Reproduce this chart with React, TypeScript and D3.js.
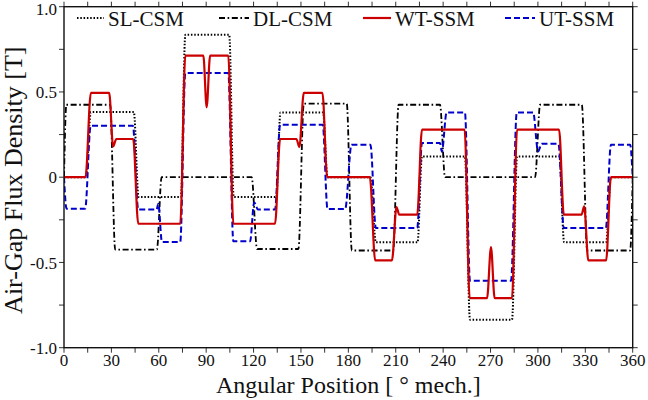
import React from "react";
import * as d3 from "d3";

type Pt = [number, number];

const SERIES_NAMES = ["SL-CSM", "DL-CSM", "WT-SSM", "UT-SSM"];

const slCsm: Pt[] = [
  [0, 0], [13.8, 0], [17, 0.382], [44.2, 0.382], [47.2, -0.116], [74, -0.116],
  [76.8, 0.836], [104.6, 0.836], [107.4, -0.116], [134.4, -0.116], [137, 0.38],
  [164, 0.38], [166.8, 0], [194, 0], [197.4, -0.382], [223.8, -0.382],
  [226.6, 0.122], [253.8, 0.122], [257, -0.836], [283.6, -0.836], [286.8, 0.122],
  [313.6, 0.122], [316.6, -0.382], [343.2, -0.382], [346.2, 0], [360, 0],
];

const dlCsm: Pt[] = [
  [0, 0], [1.5, 0.425], [29.2, 0.425], [32.4, -0.425], [58.8, -0.425], [61.8, 0],
  [118.8, 0], [122.2, -0.421], [148.4, -0.421], [151.8, 0.431], [179, 0.431],
  [182.2, -0.43], [208.4, -0.43], [211.8, 0.425], [238, 0.425], [241.2, 0],
  [298.2, 0], [301.4, 0.425], [327.8, 0.425], [331.2, -0.43], [358.4, -0.43], [360, 0],
];

const wtSsm: Pt[] = [
  [0, 0], [13.6, 0], [17, 0.494], [28.6, 0.494], [31.1, 0.18], [33.1, 0.224],
  [43.8, 0.224], [47, -0.273], [73.6, -0.273], [76.8, 0.713], [88.2, 0.713],
  [90.3, 0.41], [92.5, 0.713], [104, 0.713], [107.2, -0.273], [133.6, -0.273],
  [136.8, 0.224], [147.1, 0.224], [149, 0.177], [151.8, 0.494], [163.6, 0.494],
  [166.6, 0], [193.6, 0], [197, -0.488], [207.6, -0.488], [210.5, -0.175],
  [212.2, -0.22], [223.6, -0.22], [226.6, 0.279], [253.6, 0.279], [256.8, -0.709],
  [267.8, -0.709], [270.3, -0.41], [272.6, -0.709], [283.6, -0.709], [286.8, 0.279],
  [313.4, 0.279], [316.4, -0.22], [327.6, -0.22], [329.3, -0.171], [331.9, -0.488],
  [343.2, -0.488], [346.2, 0], [360, 0],
];

const utSsm: Pt[] = [
  [0, 0], [1.6, -0.185], [13.4, -0.185], [16.9, 0.302], [43.6, 0.302], [47, -0.19],
  [58.6, -0.19], [59.7, -0.155], [62, -0.38], [73.6, -0.38], [76.8, 0.611],
  [104, 0.611], [107.2, -0.376], [117.8, -0.376], [120.4, -0.148], [122.8, -0.19],
  [133.6, -0.19], [136.8, 0.308], [163.8, 0.308], [166.8, -0.187], [178, -0.187],
  [182, 0.19], [194, 0.19], [197.4, -0.298], [223.6, -0.298], [226.6, 0.2],
  [238, 0.2], [239.2, 0.15], [242.2, 0.38], [253.8, 0.38], [257, -0.607],
  [283, -0.607], [286.6, 0.38], [297, 0.38], [300.1, 0.151], [302.4, 0.196],
  [313, 0.196], [316.4, -0.298], [343, -0.298], [346.2, 0.19], [358.4, 0.19], [360, 0],
];

const xTicks = d3.range(0, 361, 15);
const xLabelTicks = d3.range(0, 361, 30);
const yTicks = d3.range(-1, 1.001, 0.25);
const yLabelTicks = [-1, -0.5, 0, 0.5, 1];
const yLabelText = ["-1.0", "-0.5", "0", "0.5", "1.0"];

const X_TITLE = "Angular Position [ ° mech.]";
const Y_TITLE = "Air-Gap Flux Density [T]";

const FONT = '"Liberation Serif", "DejaVu Serif", serif';

const W = 648;
const H = 400;
const left = 64;
const right = 632.7;
const top = 6.7;
const bottom = 347.7;

export default function App() {
  const x = d3.scaleLinear().domain([0, 360]).range([left, right]);
  const y = d3.scaleLinear().domain([-1, 1]).range([bottom, top]);
  const line = d3
    .line<Pt>()
    .x((d) => x(d[0]))
    .y((d) => y(d[1]))
    .curve(d3.curveMonotoneX);

  const styles = [
    { data: slCsm, stroke: "#000", width: 2, dash: "1.5 1.8" },
    { data: dlCsm, stroke: "#000", width: 1.8, dash: "6 2.6 1.6 2.6" },
    { data: wtSsm, stroke: "#cc0000", width: 2.2, dash: "none" },
    { data: utSsm, stroke: "#0000cc", width: 2, dash: "6 3" },
  ];
  const drawOrder = [0, 1, 3, 2];

  const legendX = [77, 219, 363, 505];
  const legendLen = [27, 30, 28, 30];
  const txt = { fontFamily: FONT, fill: "#111" } as React.CSSProperties;

  return (
    <svg
      width={W}
      height={H}
      style={{ position: "absolute", left: 0, top: 0, background: "#fff", fontFamily: FONT }}
    >
      <rect x={0} y={0} width={W} height={H} fill="#fff" />
      <defs>
        <clipPath id="plot-clip">
          <rect x={left} y={top} width={right - left} height={bottom - top} />
        </clipPath>
      </defs>

      {/* ticks */}
      {xTicks.map((t) => (
        <g key={"xt" + t} stroke="#333" strokeWidth={1}>
          <line x1={x(t)} x2={x(t)} y1={bottom} y2={bottom + 5} />
          <line x1={x(t)} x2={x(t)} y1={top} y2={top - 5} />
        </g>
      ))}
      {yTicks.map((t) => (
        <g key={"yt" + t} stroke="#333" strokeWidth={1}>
          <line x1={left - 5} x2={left} y1={y(t)} y2={y(t)} />
          <line x1={right} x2={right + 5} y1={y(t)} y2={y(t)} />
        </g>
      ))}

      {/* tick labels */}
      {xLabelTicks.map((t) => (
        <text key={"xl" + t} x={x(t)} y={365.5} fontSize={17} textAnchor="middle" style={txt}>
          {String(t)}
        </text>
      ))}
      {yLabelTicks.map((t, i) => (
        <text
          key={"yl" + t}
          x={57}
          y={Math.max(y(t) + 6.2, 15)}
          fontSize={17}
          textAnchor="end"
          style={txt}
        >
          {yLabelText[i]}
        </text>
      ))}

      {/* series */}
      <g clipPath="url(#plot-clip)" fill="none">
        {drawOrder.map((i) => {
          const s = styles[i];
          return (
            <path
              key={SERIES_NAMES[i]}
              d={line(s.data) || ""}
              stroke={s.stroke}
              strokeWidth={s.width}
              strokeDasharray={s.dash}
              strokeLinejoin="round"
            />
          );
        })}
      </g>

      {/* legend */}
      {SERIES_NAMES.map((name, i) => {
        const s = styles[i];
        return (
          <g key={"lg" + name}>
            <line
              x1={legendX[i]}
              x2={legendX[i] + legendLen[i]}
              y1={18}
              y2={18}
              stroke={s.stroke}
              strokeWidth={s.width}
              strokeDasharray={s.dash}
            />
            <text x={legendX[i] + legendLen[i] + 4} y={26} fontSize={21} style={txt}>
              {name}
            </text>
          </g>
        );
      })}

      {/* frame */}
      <rect
        x={left}
        y={top}
        width={right - left}
        height={bottom - top}
        fill="none"
        stroke="#111"
        strokeWidth={1.4}
      />

      {/* axis titles */}
      <text x={(left + right) / 2} y={393} fontSize={24} textAnchor="middle" style={txt}>
        {X_TITLE}
      </text>
      <text
        transform={`translate(22,${(top + bottom) / 2 + 3}) rotate(-90)`}
        fontSize={26}
        textAnchor="middle"
        style={txt}
      >
        {Y_TITLE}
      </text>
    </svg>
  );
}
